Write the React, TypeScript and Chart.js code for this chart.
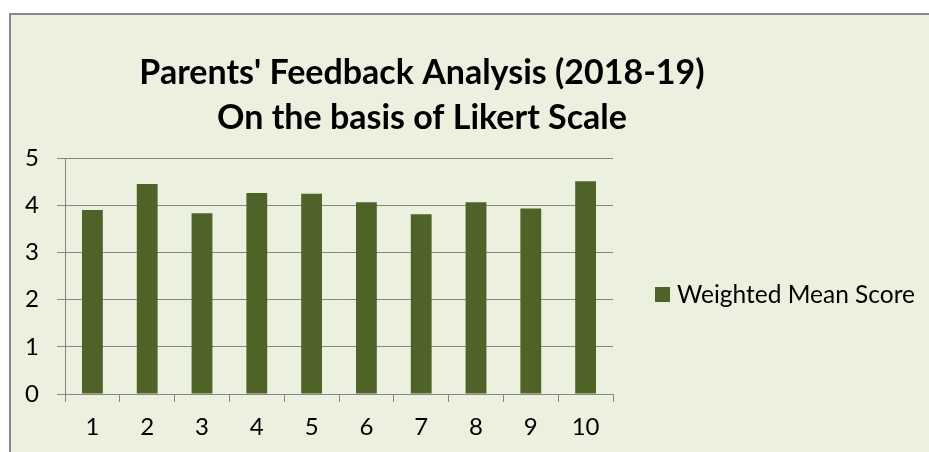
import React, { useEffect, useRef } from "react";
import { Chart, registerables } from "chart.js";

Chart.register(...registerables);

const categories: string[] = ["1", "2", "3", "4", "5", "6", "7", "8", "9", "10"];
const weightedMeanScore: number[] = [3.9, 4.45, 3.83, 4.26, 4.24, 4.06, 3.81, 4.06, 3.93, 4.51];
const seriesLabel = "Weighted Mean Score";
const titleLines: string[] = ["Parents' Feedback Analysis (2018-19)", "On the basis of Likert Scale"];
const yTicks: number[] = [0, 1, 2, 3, 4, 5];

const BAR_COLOR = "#4F6228";
const BG = "#EBF1DE";
const GRID = "#868686";
const FONT = "Lato, 'Open Sans', sans-serif";

const overlayPlugin = {
  id: "overlay",
  afterDraw(chart: any) {
    const ctx = chart.ctx;
    ctx.save();
    ctx.fillStyle = "#000";
    ctx.textAlign = "center";
    ctx.textBaseline = "alphabetic";
    ctx.font = `bold 34px ${FONT}`;
    ctx.fillText(titleLines[0], 422, 84);
    ctx.fillText(titleLines[1], 422, 129);

    const ds = chart.data.datasets[0];
    ctx.fillStyle = ds.backgroundColor;
    ctx.fillRect(655, 287, 15, 15);
    ctx.fillStyle = "#000";
    ctx.textAlign = "left";
    ctx.font = `24.5px ${FONT}`;
    ctx.fillText(ds.label, 677, 303);
    ctx.restore();
  },
};

export default function App() {
  const ref = useRef<HTMLCanvasElement | null>(null);

  useEffect(() => {
    if (!ref.current) return;
    const chart = new Chart(ref.current, {
      type: "bar",
      data: {
        labels: categories,
        datasets: [
          {
            label: seriesLabel,
            data: weightedMeanScore,
            backgroundColor: BAR_COLOR,
            borderWidth: 0,
            categoryPercentage: 1,
            barPercentage: 0.38,
          },
        ],
      },
      options: {
        animation: false,
        responsive: false,
        devicePixelRatio: 1,
        layout: { padding: { left: 0, right: 316, top: 158, bottom: 0 } },
        plugins: {
          legend: { display: false },
          title: { display: false },
          tooltip: { enabled: false },
        },
        scales: {
          x: {
            grid: {
              display: true,
              drawOnChartArea: false,
              drawTicks: true,
              tickLength: 8,
              color: GRID,
              offset: true,
            },
            border: { display: true, color: GRID, width: 1 },
            ticks: {
              color: "#000",
              font: { family: FONT, size: 24 },
              padding: 11,
              maxRotation: 0,
            },
            afterFit: (s: any) => {
              s.height = 58;
            },
          },
          y: {
            min: 0,
            max: 5,
            afterBuildTicks: (s: any) => {
              s.ticks = yTicks.map((v) => ({ value: v }));
            },
            grid: {
              color: GRID,
              lineWidth: 1,
              drawTicks: true,
              tickLength: 8,
            },
            border: { display: true, color: GRID, width: 1 },
            ticks: {
              color: "#000",
              font: { family: FONT, size: 24 },
              padding: 18,
            },
            afterFit: (s: any) => {
              s.width = 65;
            },
          },
        },
      },
      plugins: [overlayPlugin],
    });
    return () => chart.destroy();
  }, []);

  return (
    <div>
      <div
        style={{
          position: "absolute",
          left: 9,
          top: 13,
          width: 920,
          height: 439,
          background: BG,
          borderTop: "2px solid #888888",
          borderLeft: "2px solid #888888",
          boxSizing: "border-box",
        }}
      />
      <canvas
        ref={ref}
        width={929}
        height={452}
        style={{ position: "absolute", left: 0, top: 0, width: 929, height: 452 }}
      />
    </div>
  );
}
